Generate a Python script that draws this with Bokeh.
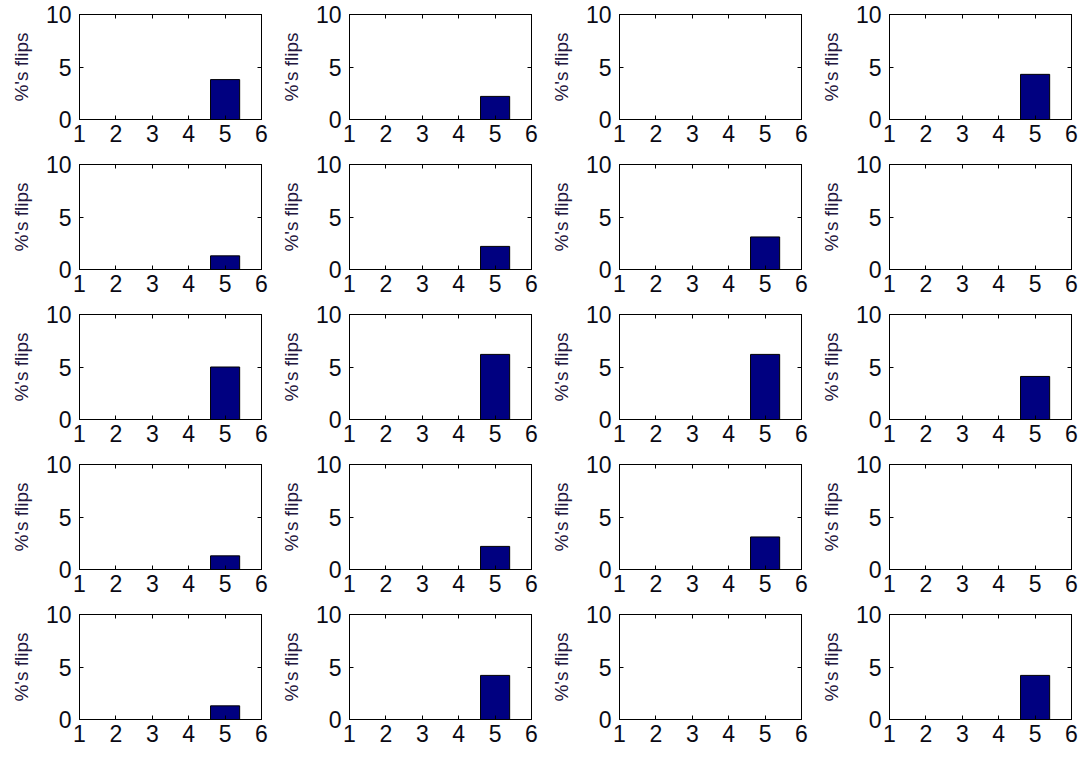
from bokeh.plotting import figure
from bokeh.layouts import gridplot
from bokeh.models import Range1d, FixedTicker, LinearAxis
from bokeh.embed import file_html
from bokeh.resources import INLINE

# Data: 5 rows x 4 columns of panels, each a bar chart over positions 1..5
positions = [1, 2, 3, 4, 5]
x_ticks = [1, 2, 3, 4, 5, 6]
y_ticks = [0, 5, 10]
y_label = "%'s flips"

row1 = [[0, 0, 0, 0, 3.8], [0, 0, 0, 0, 2.2], [0, 0, 0, 0, 0.0], [0, 0, 0, 0, 4.3]]
row2 = [[0, 0, 0, 0, 1.3], [0, 0, 0, 0, 2.2], [0, 0, 0, 0, 3.1], [0, 0, 0, 0, 0.0]]
row3 = [[0, 0, 0, 0, 5.0], [0, 0, 0, 0, 6.2], [0, 0, 0, 0, 6.2], [0, 0, 0, 0, 4.1]]
row4 = [[0, 0, 0, 0, 1.3], [0, 0, 0, 0, 2.2], [0, 0, 0, 0, 3.1], [0, 0, 0, 0, 0.0]]
row5 = [[0, 0, 0, 0, 1.3], [0, 0, 0, 0, 4.2], [0, 0, 0, 0, 0.0], [0, 0, 0, 0, 4.2]]
panels = [row1, row2, row3, row4, row5]

FONT = "Liberation Sans"
TICK_COLOR = "#0a0a14"
LABEL_COLOR = "#241640"
BAR_COLOR = "#000080"


def make_panel(values):
    p = figure(width=270, height=150, output_backend="svg", toolbar_location=None,
               x_range=Range1d(1, 6), y_range=Range1d(0, 10),
               min_border_left=79, min_border_right=9, min_border_top=14, min_border_bottom=31)
    p.grid.visible = False
    p.outline_line_color = "black"
    p.outline_line_width = 1
    p.background_fill_color = "white"
    p.border_fill_color = "white"

    xs = [x for x, v in zip(positions, values) if v > 0]
    ys = [v for v in values if v > 0]
    if xs:
        p.vbar(x=xs, top=ys, bottom=0, width=0.8, fill_color=BAR_COLOR, line_color="black", line_width=1)

    for ax in p.xaxis:
        ax.ticker = FixedTicker(ticks=x_ticks)
    for ax in p.yaxis:
        ax.ticker = FixedTicker(ticks=y_ticks)
    for ax in list(p.xaxis) + list(p.yaxis):
        ax.major_tick_in = 4
        ax.major_tick_out = 0
        ax.minor_tick_line_color = None
        ax.axis_line_color = "black"
        ax.major_tick_line_color = "black"
        ax.major_label_text_font = FONT
        ax.major_label_text_font_size = "23px"
        ax.major_label_text_color = TICK_COLOR
    p.xaxis.major_label_standoff = 5
    p.yaxis.major_label_standoff = 8
    p.yaxis.axis_label = y_label
    p.yaxis.axis_label_text_font = FONT
    p.yaxis.axis_label_text_font_size = "19px"
    p.yaxis.axis_label_text_font_style = "normal"
    p.yaxis.axis_label_text_color = LABEL_COLOR
    p.yaxis.axis_label_standoff = 11

    # mirrored inward ticks on top and right, without labels
    top = LinearAxis(ticker=FixedTicker(ticks=x_ticks), major_tick_in=4, major_tick_out=0,
                     major_label_text_font_size="1px", major_label_text_color=None,
                     major_label_standoff=0, minor_tick_line_color=None, axis_line_color="black")
    right = LinearAxis(ticker=FixedTicker(ticks=y_ticks), major_tick_in=4, major_tick_out=0,
                       major_label_text_font_size="1px", major_label_text_color=None,
                       major_label_standoff=0, minor_tick_line_color=None, axis_line_color="black")
    p.add_layout(top, "above")
    p.add_layout(right, "right")
    return p


figs = [[make_panel(v) for v in row] for row in panels]
grid = gridplot(figs, toolbar_location=None)

open("out.html", "w").write(file_html(grid, INLINE))
